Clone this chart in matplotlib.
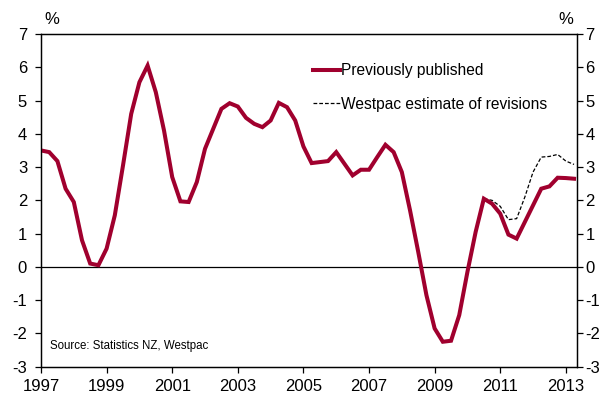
""" NZ GDP annual growth, previously published vs Westpac estimate of revisions
"""

## LIBRARIES
import numpy as np
import matplotlib
matplotlib.use('Agg')
import matplotlib.pyplot as plt

## DATA
START_YEAR = 1997
# quarterly annual % change, 1997Q1 .. 2013Q2
published = [3.5, 3.45, 3.18, 2.35, 1.95, 0.8, 0.1, 0.05, 0.55, 1.55,
             3.05, 4.6, 5.55, 6.05, 5.25, 4.1, 2.7, 1.97, 1.95, 2.55,
             3.55, 4.15, 4.75, 4.92, 4.82, 4.48, 4.3, 4.2, 4.4, 4.93,
             4.8, 4.4, 3.62, 3.12, 3.15, 3.18, 3.45, 3.1, 2.75, 2.92,
             2.92, 3.3, 3.67, 3.45, 2.85, 1.7, 0.45, -0.85, -1.85, -2.25,
             -2.22, -1.45, -0.15, 1.05, 2.05, 1.9, 1.6, 0.97, 0.85, 1.35,
             1.85, 2.35, 2.42, 2.68, 2.67, 2.65]
# revision estimate starts at 2010Q3
revised_start = 54
revised = [2.05, 2.0, 1.82, 1.42, 1.45, 2.1, 2.85, 3.3, 3.32, 3.38,
           3.18, 3.08]

xticks = [1997, 1999, 2001, 2003, 2005, 2007, 2009, 2011, 2013]
yticks = [-3, -2, -1, 0, 1, 2, 3, 4, 5, 6, 7]

RED = '#a0002e'

## FIGURE
plt.rcParams['font.family'] = ['Liberation Sans', 'DejaVu Sans']

x_pub = START_YEAR + np.arange(len(published)) / 4.0
x_rev = START_YEAR + (revised_start + np.arange(len(revised))) / 4.0

fig = plt.figure(figsize=(6.05, 3.94), dpi=100)
ax = fig.add_axes([41/605, 1-366.7/394, (577-41)/605, (366.7-34)/394])

ax.axhline(0, color='black', lw=0.9, zorder=1)
ax.plot(x_rev, revised, color='black', lw=0.9, ls=(0, (3, 1.6)),
        label='Westpac estimate of revisions', zorder=2)
ax.plot(x_pub, published, color=RED, lw=2.9, label='Previously published',
        zorder=3, solid_joinstyle='miter')

ax.set_xlim(1997, 2013.34)
ax.set_ylim(-3, 7)
ax.set_xticks(xticks)
ax.set_yticks(yticks)
ax.set_yticklabels([str(v) for v in yticks])

for s in ax.spines.values():
    s.set_linewidth(0.9)
ax.tick_params(axis='both', labelsize=12, length=4, width=0.9, direction='out')
ax.tick_params(axis='y', pad=6)
ax.tick_params(axis='x', pad=5)

# right hand axis, same scale
ax2 = ax.twinx()
ax2.set_ylim(-3, 7)
ax2.set_yticks(yticks)
ax2.set_yticklabels([str(v) for v in yticks])
ax2.tick_params(axis='y', labelsize=12, length=4, width=0.9, pad=2)
for s in ax2.spines.values():
    s.set_linewidth(0.9)

ax.text(0.006, 1.02, '%', transform=ax.transAxes, fontsize=12, ha='left',
        va='bottom')
ax.text(0.993, 1.02, '%', transform=ax.transAxes, fontsize=12, ha='right',
        va='bottom')
ax.text(0.017, 0.045, 'Source: Statistics NZ, Westpac', transform=ax.transAxes,
        fontsize=8.3, ha='left', va='bottom')

# legend: published first
h, l = ax.get_legend_handles_labels()
ax.legend(h[::-1], l[::-1], loc='upper left', bbox_to_anchor=(0.507, 0.913),
          frameon=False, fontsize=11.2, handlelength=1.75, handletextpad=0.05,
          labelspacing=1.2, borderpad=0, borderaxespad=0)

fig.savefig('out.png', dpi=100)
